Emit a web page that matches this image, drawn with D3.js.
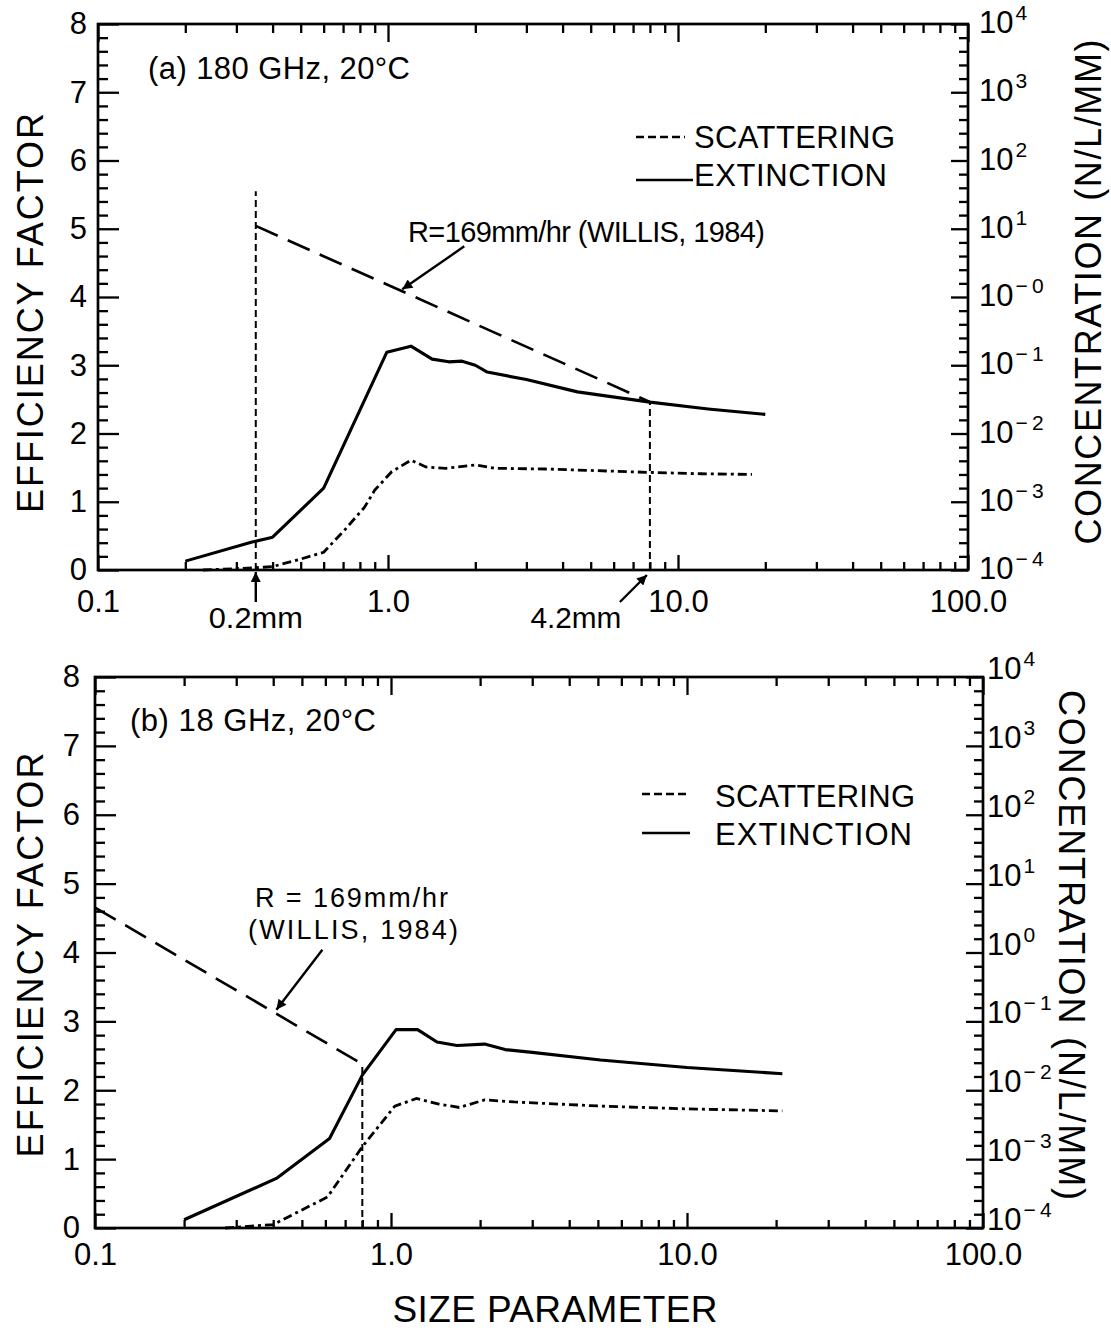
<!DOCTYPE html>
<html><head><meta charset="utf-8">
<script src="https://cdn.jsdelivr.net/npm/d3@7"></script>
<style>
body{margin:0;background:#fff;}
svg{display:block;background:#fff;}
text{font-family:"Liberation Sans",Arial,Helvetica,sans-serif;fill:#000;}
</style>
</head><body>
<svg id="c" width="1111" height="1338"></svg>
<script>
// ---------------- DATA ----------------
const xTickValues = [0.1, 1, 10, 100];
const xTickLabels = ["0.1", "1.0", "10.0", "100.0"];
const yTickValues = [0, 1, 2, 3, 4, 5, 6, 7, 8];
const concExponents = [-4, -3, -2, -1, 0, 1, 2, 3, 4];
const concSupA = ["\u2212\u20094", "\u2212\u20093", "\u2212\u20092", "\u2212\u20091", "\u2212\u20090", "1", "2", "3", "4"];
const concSupB = ["\u2212\u20094", "\u2212\u20093", "\u2212\u20092", "\u2212\u20091", "0", "1", "2", "3", "4"];

// Panel (a) 180 GHz
const extA_x = [0.2, 0.34, 0.40, 0.60, 0.99, 1.2, 1.42, 1.62, 1.8, 2.0, 2.2, 3.0, 4.5, 8.0, 12.7, 20];
const extA_y = [0.13, 0.41, 0.48, 1.2, 3.19, 3.28, 3.09, 3.05, 3.06, 3.0, 2.9, 2.79, 2.61, 2.46, 2.36, 2.28];
const scaA_x = [0.23, 0.34, 0.40, 0.50, 0.60, 0.71, 0.83, 0.90, 1.03, 1.2, 1.35, 1.58, 2.0, 2.35, 3.5, 8.0, 12, 18];
const scaA_y = [0.0, 0.03, 0.05, 0.16, 0.26, 0.59, 0.92, 1.17, 1.44, 1.61, 1.51, 1.49, 1.54, 1.49, 1.48, 1.43, 1.41, 1.40];
const willisA_x = [0.35, 8.0];
const willisA_n = [11, 0.029];
const markA_x = [0.35, 8.0];
const markA_top = [5.55, 2.46];
const markA_labels = ["0.2mm", "4.2mm"];

// Panel (b) 18 GHz
const extB_x = [0.2, 0.41, 0.62, 0.8, 1.04, 1.23, 1.43, 1.67, 2.07, 2.43, 3.0, 5.1, 10, 21];
const extB_y = [0.12, 0.72, 1.3, 2.22, 2.88, 2.88, 2.7, 2.65, 2.67, 2.59, 2.55, 2.44, 2.33, 2.24];
const scaB_x = [0.275, 0.4, 0.61, 0.8, 1.03, 1.22, 1.45, 1.7, 2.07, 2.6, 5.1, 10, 21];
const scaB_y = [0.0, 0.05, 0.45, 1.18, 1.77, 1.88, 1.8, 1.75, 1.86, 1.83, 1.77, 1.73, 1.70];
const willisB_x = [0.1, 0.8];
const willisB_n = [4.5, 0.024];
const markB_x = [0.8];
const markB_top = [2.36];

const titles = ["(a) 180 GHz, 20\u00B0C", "(b) 18 GHz, 20\u00B0C"];
const willisLabel = "R=169mm/hr  (WILLIS, 1984)";
const willisLabelB = ["R = 169mm/hr", "(WILLIS, 1984)"];
const legendLabels = ["SCATTERING", "EXTINCTION"];

// ---------------- DRAW ----------------
const svg = d3.select("#c");
const FONT = 31;
const scatDash = "9,4,3,4";
const willisDash = "24,11";
const markDash = "7,4";

svg.append("defs").append("marker")
  .attr("id", "ah").attr("viewBox", "0 0 10 10").attr("refX", 10).attr("refY", 5)
  .attr("markerWidth", 14).attr("markerHeight", 10).attr("markerUnits", "userSpaceOnUse")
  .attr("orient", "auto")
  .append("path").attr("d", "M0,0 L10,5 L0,10 z").attr("fill", "#000");

function zip(a, b) { return a.map((v, i) => [v, b[i]]); }

function drawPanel(cfg) {
  const g = svg.append("g");
  const x = d3.scaleLog().domain([0.1, 100]).range([cfg.left, cfg.right]);
  const y = d3.scaleLinear().domain([0, 8]).range([cfg.bottom, cfg.top]);
  const yR = d3.scaleLog().domain([1e-4, 1e4]).range([cfg.bottom, cfg.top]);

  const xMinor = [];
  [0.1, 1, 10].forEach(d => { for (let k = 2; k <= 9; k++) xMinor.push(d * k); });
  const yMinor = d3.range(0, 8.001, 0.2).filter(v => Math.abs(v - Math.round(v)) > 1e-6);
  const rMinor = [];
  for (let e = -4; e < 4; e++) for (let i = 1; i < 5; i++) rMinor.push(Math.pow(10, e + 0.2 * i));

  function styleAxis(sel) {
    sel.select(".domain").remove();
    sel.selectAll("line").attr("stroke", "#000").attr("stroke-width", 2.3);
    sel.selectAll("text").attr("font-size", FONT).style("font-family", '"Liberation Sans",Arial,sans-serif');
  }

  // bottom axis
  g.append("g").attr("transform", `translate(0,${cfg.bottom})`)
    .call(d3.axisBottom(x).tickValues(xTickValues).tickFormat((d, i) => xTickLabels[i]).tickSize(-15).tickPadding(cfg.xPad))
    .call(styleAxis);
  g.append("g").attr("transform", `translate(0,${cfg.bottom})`)
    .call(d3.axisBottom(x).tickValues(xMinor).tickFormat("").tickSize(-8))
    .call(styleAxis);
  // top axis
  g.append("g").attr("transform", `translate(0,${cfg.top})`)
    .call(d3.axisTop(x).tickValues(xTickValues).tickFormat("").tickSize(-18))
    .call(styleAxis);
  g.append("g").attr("transform", `translate(0,${cfg.top})`)
    .call(d3.axisTop(x).tickValues(xMinor).tickFormat("").tickSize(-9))
    .call(styleAxis);
  // left axis
  g.append("g").attr("transform", `translate(${cfg.left},0)`)
    .call(d3.axisLeft(y).tickValues(yTickValues).tickFormat(d3.format("d")).tickSize(-21).tickPadding(cfg.yPad))
    .call(styleAxis);
  g.append("g").attr("transform", `translate(${cfg.left},0)`)
    .call(d3.axisLeft(y).tickValues(yMinor).tickFormat("").tickSize(-10))
    .call(styleAxis);
  // right axis
  g.append("g").attr("transform", `translate(${cfg.right},0)`)
    .call(d3.axisRight(yR).tickValues(concExponents.map(e => Math.pow(10, e))).tickFormat("").tickSize(-17))
    .call(styleAxis);
  g.append("g").attr("transform", `translate(${cfg.right},0)`)
    .call(d3.axisRight(yR).tickValues(rMinor).tickFormat("").tickSize(-9))
    .call(styleAxis);
  // right axis labels with superscripts
  concExponents.forEach((e, i) => {
    const t = g.append("text")
      .attr("x", cfg.right + cfg.rPad)
      .attr("y", yR(Math.pow(10, e)) + cfg.rDy)
      .attr("font-size", FONT);
    t.append("tspan").text("10");
    t.append("tspan").attr("font-size", 21).attr("dy", -13).attr("dx", 2).text(cfg.sup[i]);
  });

  // frame
  g.append("rect").attr("x", cfg.left).attr("y", cfg.top)
    .attr("width", cfg.right - cfg.left).attr("height", cfg.bottom - cfg.top)
    .attr("fill", "none").attr("stroke", "#000").attr("stroke-width", 2.7);

  const line = d3.line().x(d => x(d[0])).y(d => y(d[1]));
  const lineR = d3.line().x(d => x(d[0])).y(d => yR(d[1]));

  // marker (size) lines
  cfg.markX.forEach((mx, i) => {
    g.append("path").attr("d", line([[mx, 0], [mx, cfg.markTop[i]]]))
      .attr("fill", "none").attr("stroke", "#000").attr("stroke-width", 2)
      .attr("stroke-dasharray", markDash);
  });

  // Willis distribution
  g.append("path").attr("d", lineR(zip(cfg.wX, cfg.wN)))
    .attr("fill", "none").attr("stroke", "#000").attr("stroke-width", 2.6)
    .attr("stroke-dasharray", willisDash);

  // extinction
  g.append("path").attr("d", line(zip(cfg.extX, cfg.extY)))
    .attr("fill", "none").attr("stroke", "#000").attr("stroke-width", 3.1)
    .attr("stroke-linejoin", "round");
  // scattering
  g.append("path").attr("d", line(zip(cfg.scaX, cfg.scaY)))
    .attr("fill", "none").attr("stroke", "#000").attr("stroke-width", 2.8)
    .attr("stroke-dasharray", scatDash);

  // panel title
  g.append("text").attr("x", cfg.titleX).attr("y", cfg.titleY)
    .attr("font-size", FONT).attr("textLength", cfg.titleLen).attr("lengthAdjust", "spacing")
    .text(cfg.title);

  // legend
  g.append("line").attr("x1", cfg.legX1).attr("x2", cfg.legX2).attr("y1", cfg.legY1).attr("y2", cfg.legY1)
    .attr("stroke", "#000").attr("stroke-width", 2.4).attr("stroke-dasharray", "8,4");
  g.append("line").attr("x1", cfg.legX1).attr("x2", cfg.legX2 + cfg.legExt).attr("y1", cfg.legY2).attr("y2", cfg.legY2)
    .attr("stroke", "#000").attr("stroke-width", 2.6);
  g.append("text").attr("x", cfg.legTX).attr("y", cfg.legTY1).attr("font-size", FONT)
    .attr("textLength", cfg.legLen1).attr("lengthAdjust", "spacing").text(legendLabels[0]);
  g.append("text").attr("x", cfg.legTX).attr("y", cfg.legTY2).attr("font-size", FONT)
    .attr("textLength", cfg.legLen2).attr("lengthAdjust", "spacing").text(legendLabels[1]);

  return { g, x, y, yR };
}

// Panel A
const A = drawPanel({
  left: 98, right: 968, top: 24, bottom: 570, xPad: 20, yPad: 11, rPad: 11, rDy: 9, sup: concSupA,
  extX: extA_x, extY: extA_y, scaX: scaA_x, scaY: scaA_y, wX: willisA_x, wN: willisA_n,
  markX: markA_x, markTop: markA_top,
  title: titles[0], titleX: 148, titleY: 79, titleLen: 262,
  legX1: 636, legX2: 685, legExt: 8, legY1: 137, legY2: 180, legTX: 694, legTY1: 148, legTY2: 186,
  legLen1: 201, legLen2: 193
});
// Panel B
const B = drawPanel({
  left: 95, right: 983, top: 677, bottom: 1228, xPad: 15, yPad: 15, rPad: 4, rDy: 2, sup: concSupB,
  extX: extB_x, extY: extB_y, scaX: scaB_x, scaY: scaB_y, wX: willisB_x, wN: willisB_n,
  markX: markB_x, markTop: markB_top,
  title: titles[1], titleX: 130, titleY: 731, titleLen: 246,
  legX1: 642, legX2: 690, legExt: 0, legY1: 794, legY2: 833, legTX: 715, legTY1: 807, legTY2: 845,
  legLen1: 200, legLen2: 197
});

// ---- annotations ----
function arrow(g, x1, y1, x2, y2) {
  g.append("line").attr("x1", x1).attr("y1", y1).attr("x2", x2).attr("y2", y2)
    .attr("stroke", "#000").attr("stroke-width", 2.4).attr("marker-end", "url(#ah)");
}
{
  const xa = A.x(markA_x[0]), xb = A.x(markA_x[1]), y0 = A.y(0);
  arrow(A.g, xa, y0 + 32, xa, y0 + 2);
  arrow(A.g, xb - 30, y0 + 32, xb - 3, y0 + 5);
  A.g.append("text").attr("x", xa).attr("y", 628).attr("text-anchor", "middle").attr("font-size", 29)
    .attr("textLength", 94).attr("lengthAdjust", "spacingAndGlyphs").text(markA_labels[0]);
  A.g.append("text").attr("x", xb - 74).attr("y", 628).attr("text-anchor", "middle").attr("font-size", 29)
    .attr("textLength", 91).attr("lengthAdjust", "spacingAndGlyphs").text(markA_labels[1]);
  A.g.append("text").attr("x", 408).attr("y", 242).attr("font-size", 29)
    .attr("textLength", 357).attr("lengthAdjust", "spacing").text(willisLabel);
  const tx = 1.12;
  const lw = d3.scaleLog().domain(willisA_x).range(willisA_n.map(n => A.yR(n)));
  const tipX = A.x(tx), tipY = lw(tx) - 2;
  arrow(A.g, tipX + 62, tipY - 43, tipX, tipY);
}
{
  B.g.append("text").attr("x", 255).attr("y", 907).attr("font-size", 27)
    .attr("textLength", 193).attr("lengthAdjust", "spacing").text(willisLabelB[0]);
  B.g.append("text").attr("x", 248).attr("y", 939).attr("font-size", 27)
    .attr("textLength", 210).attr("lengthAdjust", "spacing").text(willisLabelB[1]);
  const tx = 0.41;
  const lw = d3.scaleLog().domain(willisB_x).range(willisB_n.map(n => B.yR(n)));
  const tipX = B.x(tx), tipY = lw(tx) - 4;
  arrow(B.g, tipX + 46, tipY - 60, tipX, tipY);
}

// ---- axis titles ----
function vtext(x, y, rot, str, len) {
  svg.append("text").attr("transform", `translate(${x},${y}) rotate(${rot})`)
    .attr("text-anchor", "middle").attr("font-size", 36)
    .attr("textLength", len).attr("lengthAdjust", "spacing").text(str);
}
vtext(43, 313, -90, "EFFICIENCY FACTOR", 400);
vtext(43, 955, -90, "EFFICIENCY FACTOR", 405);
vtext(1101, 292, -90, "CONCENTRATION (N/L/MM)", 505);
vtext(1059, 945, 90, "CONCENTRATION (N/L/MM)", 510);
svg.append("text").attr("x", 555).attr("y", 1322).attr("text-anchor", "middle")
  .attr("font-size", 37).attr("textLength", 325).attr("lengthAdjust", "spacing").text("SIZE PARAMETER");
</script>
</body></html>
